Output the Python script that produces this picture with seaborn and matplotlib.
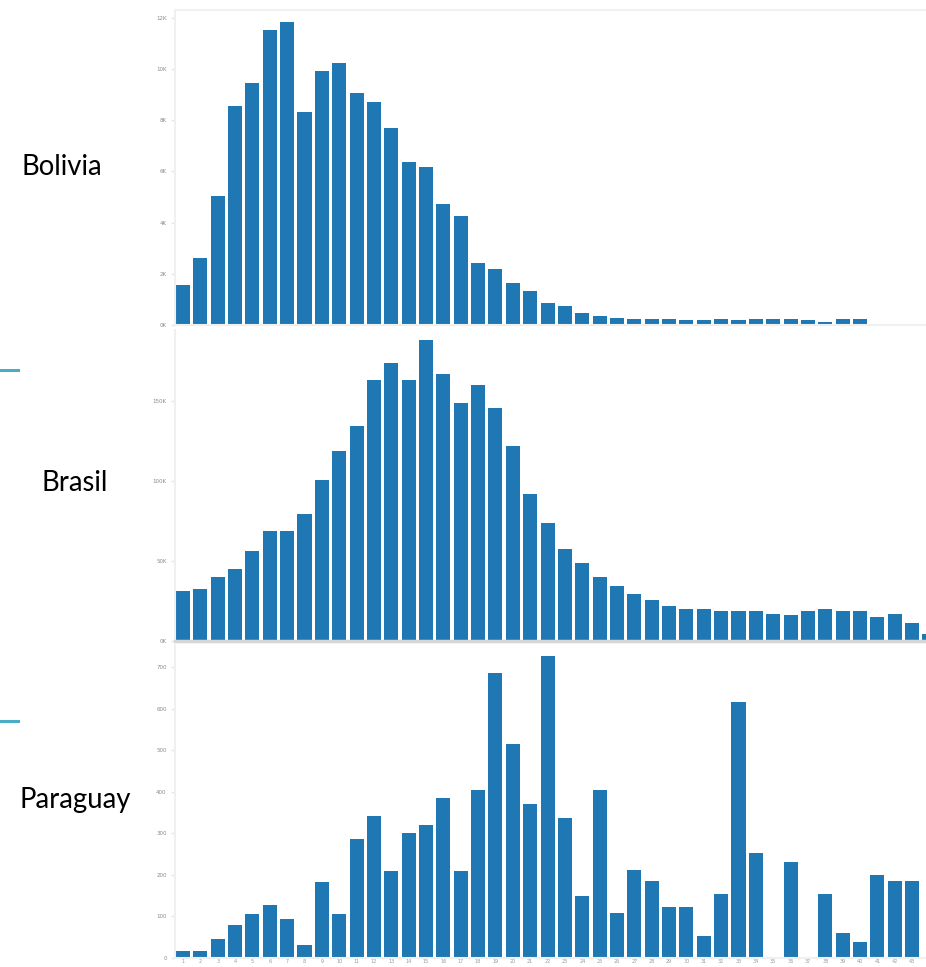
import seaborn as sns
import matplotlib.pyplot as plt
import pandas as pd

weeks = [str(i) for i in range(1, 45)]

bolivia = [1580, 2600, 5030, 8550, 9460, 11530, 11830, 8320, 9900, 10250,
           9040, 8720, 7700, 6380, 6170, 4720, 4260, 2430, 2170, 1630,
           1320, 860, 750, 470, 360, 290, 220, 220, 220, 180,
           180, 220, 180, 220, 220, 220, 180, 120, 220, 220]

brasil = [31000, 32300, 39800, 44800, 56000, 68500, 68500, 79200, 100400, 118500,
          134200, 162900, 173500, 162900, 187900, 166700, 148700, 159800, 145400, 121900,
          91700, 73500, 57700, 48700, 40000, 34200, 29200, 25400, 21700, 19800,
          19800, 18500, 18500, 18500, 16700, 16000, 18500, 19800, 18500, 18500,
          15200, 16700, 11000, 4200]

paraguay = [16, 16, 45, 79, 106, 127, 93, 31, 183, 106,
            286, 342, 209, 300, 320, 385, 209, 405, 687, 516,
            372, 727, 338, 149, 405, 109, 213, 186, 124, 124,
            54, 153, 617, 254, None, 231, None, 153, 61, 39,
            201, 186, 186]

countries = ['Bolivia', 'Brasil', 'Paraguay']
values = {'Bolivia': bolivia, 'Brasil': brasil, 'Paraguay': paraguay}
yticks = {'Bolivia': ([0, 2000, 4000, 6000, 8000, 10000, 12000],
                      ['0K', '2K', '4K', '6K', '8K', '10K', '12K']),
          'Brasil': ([0, 50000, 100000, 150000], ['0K', '50K', '100K', '150K']),
          'Paraguay': ([0, 100, 200, 300, 400, 500, 600, 700],
                       ['0', '100', '200', '300', '400', '500', '600', '700'])}
ylims = {'Bolivia': 12300, 'Brasil': 194000, 'Paraguay': 754}

rows = []
for c in countries:
    for w, v in zip(weeks, values[c]):
        if v is not None:
            rows.append({'country': c, 'week': w, 'value': v})
df = pd.DataFrame(rows)

W, H = 926, 967
fig = plt.figure(figsize=(W / 100, H / 100), dpi=100)
# pixel boxes (top, bottom) of each panel
boxes = {'Bolivia': (10, 325), 'Brasil': (330, 641), 'Paraguay': (645, 958)}
label_pos = {'Bolivia': (22, 167), 'Brasil': (41, 483), 'Paraguay': (20, 800)}

left = 175 / W
for c in countries:
    top, bot = boxes[c]
    ax = fig.add_axes([left, 1 - bot / H, 1 - left, (bot - top) / H])
    sns.barplot(data=df[df.country == c], x='week', y='value', order=weeks,
                color='#1f77b4', saturation=1, width=0.81, errorbar=None, ax=ax)
    ax.set_xlim(-0.46, 42.8)
    ax.set_ylim(0, ylims[c])
    ax.set_yticks(yticks[c][0])
    ax.set_yticklabels(yticks[c][1], fontsize=4, color='#8a8a8a')
    ax.tick_params(axis='y', length=3, width=1, color='#e6e6e6', pad=3)
    ax.set_xlabel('')
    ax.set_ylabel('')
    for s in ['top', 'right']:
        ax.spines[s].set_visible(False)
    ax.spines['left'].set_color('#f0f0f0')
    ax.spines['left'].set_linewidth(1.5)
    ax.spines['bottom'].set_color('#f0f0f0')
    ax.spines['bottom'].set_linewidth(1.5)
    if c == 'Bolivia':
        ax.spines['top'].set_visible(True)
        ax.spines['top'].set_color('#f0f0f0')
        ax.spines['top'].set_linewidth(1.5)
    if c == 'Brasil':
        ax.spines['bottom'].set_color('#d6d6d6')
        ax.spines['bottom'].set_linewidth(2.5)
    if c == 'Paraguay':
        ax.tick_params(axis='x', length=0, pad=1, labelsize=3.5, labelcolor='#9a9a9a')
    else:
        ax.tick_params(axis='x', length=0, labelbottom=False)
    lx, ly = label_pos[c]
    fig.text(lx / W, 1 - ly / H, c, fontsize=19.8, family='Lato', ha='left', va='center')

# small accent marks on the left edge
for y in [370, 721]:
    fig.add_artist(plt.Line2D([0, 18 / W], [1 - y / H, 1 - y / H], color='#4bacc6', lw=2.2))

plt.savefig('out.png', dpi=100)
